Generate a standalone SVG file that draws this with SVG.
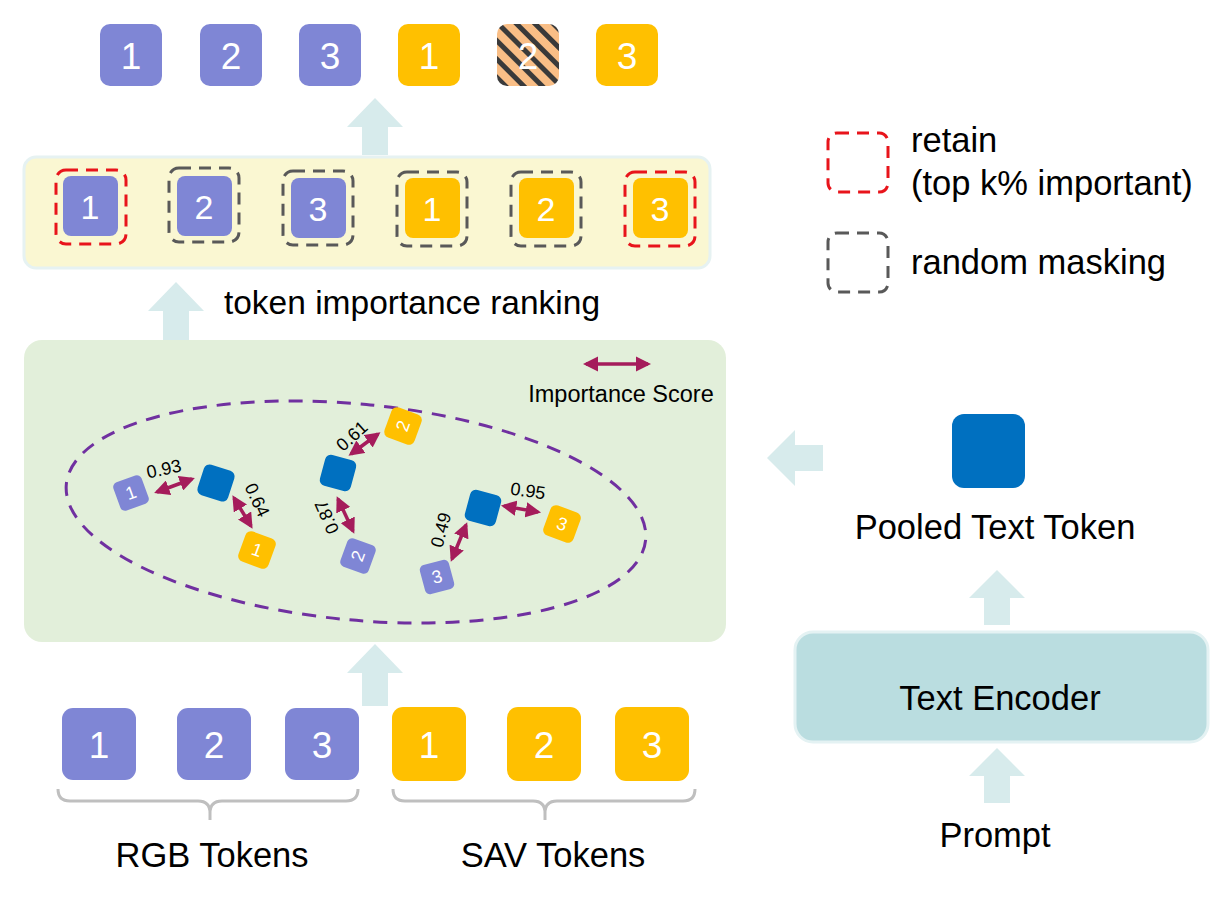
<svg xmlns="http://www.w3.org/2000/svg" width="1224" height="908" viewBox="0 0 1224 908">
<defs>
<style>
text{font-family:"Liberation Sans",Arial,sans-serif;}
.p{fill:#7F86D5;}
.y{fill:#FFC000;}
.b{fill:#0070C0;}
.num{fill:#fff;text-anchor:middle;dominant-baseline:central;}
.big{font-size:37px;}
.mid{font-size:34px;}
.sm{font-size:18px;}
.lbl{fill:#000;font-size:34.5px;}
.flow{fill:#D7EBEC;}
.red{fill:none;stroke:#E8141B;stroke-width:3;stroke-dasharray:12 8;}
.gray{fill:none;stroke:#595959;stroke-width:3;stroke-dasharray:12 8;}
.dbl{stroke:#A51C5B;stroke-width:3.5;marker-start:url(#ah);marker-end:url(#ah);}
.score{font-size:18px;fill:#000;text-anchor:middle;dominant-baseline:central;}
.brace{fill:none;stroke:#BFBFBF;stroke-width:3;}
</style>
<marker id="ah" viewBox="0 0 10 10" refX="8" refY="5" markerWidth="4.4" markerHeight="4.4" orient="auto-start-reverse" markerUnits="strokeWidth">
<path d="M0,0 L10,5 L0,10 z" fill="#A51C5B"/>
</marker>
<pattern id="hatch" width="13" height="13" patternUnits="userSpaceOnUse" patternTransform="rotate(45)">
<rect width="13" height="13" fill="#F9BE86"/>
<rect width="13" height="5" fill="#3A3A3A"/>
</pattern>
</defs>
<rect width="1224" height="908" fill="#fff"/>

<!-- panels -->
<g id="ranking-box">
<rect x="24" y="157" width="686" height="111" rx="12" fill="#FAF7D2" stroke="#E6F2F2" stroke-width="3"/>
</g>
<g id="scoring-box">
<rect x="24" y="340" width="702" height="302" rx="18" fill="#E2EFDA"/>
</g>
<g id="text-encoder">
<rect x="795" y="632" width="413" height="110" rx="18" fill="#BADDE0" stroke="#E4F2F3" stroke-width="3"/>
<text class="lbl" x="1000" y="698" text-anchor="middle" dominant-baseline="central">Text Encoder</text>
</g>

<!-- flow arrows -->
<g id="connectors">
<path class="flow" d="M375,98 L403,127 L388,127 L388,155 L362,155 L362,127 L347,127 Z"/>
<path class="flow" d="M176,282 L204,311 L189,311 L189,340 L163,340 L163,311 L148,311 Z"/>
<path class="flow" d="M375,644 L403,673 L388,673 L388,706 L362,706 L362,673 L347,673 Z"/>
<path class="flow" d="M767,458 L795,430 L795,445 L823,445 L823,471 L795,471 L795,486 Z"/>
<path class="flow" d="M997,570 L1025,598 L1010,598 L1010,625 L984,625 L984,598 L969,598 Z"/>
<path class="flow" d="M997,748 L1025,776 L1010,776 L1010,803 L984,803 L984,776 L969,776 Z"/>
<!-- importance score arrows -->
<line class="dbl" x1="157" y1="492" x2="192" y2="479"/>
<line class="dbl" x1="234" y1="498" x2="251" y2="526"/>
<line class="dbl" x1="351" y1="454" x2="378" y2="434"/>
<line class="dbl" x1="338" y1="499" x2="353" y2="531"/>
<line class="dbl" x1="504" y1="506" x2="538" y2="512"/>
<line class="dbl" x1="466" y1="525" x2="452" y2="559"/>
<line class="dbl" x1="586" y1="364" x2="648" y2="364"/>
</g>

<!-- top row output tokens -->
<g id="out-rgb-1"><rect class="p" x="100" y="24" width="62" height="62" rx="10"/><text class="num big" x="131" y="56">1</text></g>
<g id="out-rgb-2"><rect class="p" x="200" y="24" width="62" height="62" rx="10"/><text class="num big" x="231" y="56">2</text></g>
<g id="out-rgb-3"><rect class="p" x="299" y="24" width="62" height="62" rx="10"/><text class="num big" x="330" y="56">3</text></g>
<g id="out-sav-1"><rect class="y" x="398" y="24" width="62" height="62" rx="10"/><text class="num big" x="429" y="56">1</text></g>
<g id="out-sav-2"><rect x="497" y="24" width="62" height="62" rx="10" fill="url(#hatch)"/><text class="num big" x="528" y="56">2</text></g>
<g id="out-sav-3"><rect class="y" x="596" y="24" width="62" height="62" rx="10"/><text class="num big" x="627" y="56">3</text></g>

<!-- ranked tokens -->
<g id="rank-rgb-1"><rect class="p" x="63" y="176" width="55" height="60" rx="8"/><text class="num mid" x="90" y="207">1</text><rect class="red" x="56" y="170" width="70" height="74" rx="10"/></g>
<g id="rank-rgb-2"><rect class="p" x="177" y="176" width="55" height="60" rx="8"/><text class="num mid" x="204" y="207">2</text><rect class="gray" x="169" y="168" width="70" height="74" rx="10"/></g>
<g id="rank-rgb-3"><rect class="p" x="291" y="178" width="55" height="60" rx="8"/><text class="num mid" x="318" y="209">3</text><rect class="gray" x="283" y="171" width="70" height="74" rx="10"/></g>
<g id="rank-sav-1"><rect class="y" x="405" y="178" width="55" height="60" rx="8"/><text class="num mid" x="432" y="209">1</text><rect class="gray" x="397" y="172" width="70" height="74" rx="10"/></g>
<g id="rank-sav-2"><rect class="y" x="519" y="178" width="55" height="60" rx="8"/><text class="num mid" x="546" y="209">2</text><rect class="gray" x="511" y="172" width="70" height="74" rx="10"/></g>
<g id="rank-sav-3"><rect class="y" x="633" y="178" width="55" height="60" rx="8"/><text class="num mid" x="660" y="209">3</text><rect class="red" x="625" y="172" width="70" height="74" rx="10"/></g>

<g id="ranking-label"><text class="lbl" x="412" y="314" text-anchor="middle" style="font-size:33.5px">token importance ranking</text></g>

<!-- legend -->
<g id="legend-retain">
<rect class="red" x="828" y="133" width="60" height="59" rx="9"/>
<text class="lbl" x="911" y="152">retain</text>
<text class="lbl" x="911" y="195">(top k% important)</text>
</g>
<g id="legend-mask">
<rect class="gray" x="828" y="233" width="60" height="59" rx="9"/>
<text class="lbl" x="911" y="274">random masking</text>
</g>

<!-- scoring panel content -->
<g id="score-legend"><text x="621" y="402" font-size="23.5" text-anchor="middle" fill="#000">Importance Score</text></g>
<g id="cluster-ellipse"><ellipse cx="356" cy="512" rx="291" ry="108" transform="rotate(5.5 356 512)" fill="none" stroke="#7030A0" stroke-width="3" stroke-dasharray="14 10"/></g>

<g id="s-rgb-1" transform="translate(131,493) rotate(-20)"><rect class="p" x="-15" y="-15" width="30" height="30" rx="5"/><text class="num sm" x="0" y="0">1</text></g>
<g id="s-txt-1" transform="translate(216,483) rotate(18)"><rect class="b" x="-16" y="-16" width="32" height="32" rx="6"/></g>
<g id="s-sav-1" transform="translate(257,550) rotate(20)"><rect class="y" x="-16" y="-16" width="32" height="32" rx="6"/><text class="num sm" x="0" y="0">1</text></g>
<text class="score" transform="translate(164,469) rotate(-12)">0.93</text>
<text class="score" transform="translate(257,500) rotate(65)">0.64</text>

<g id="s-sav-2" transform="translate(403,426) rotate(20)"><rect class="y" x="-16" y="-16" width="32" height="32" rx="6"/><text class="num sm" x="0" y="0" transform="rotate(-90)">2</text></g>
<g id="s-txt-2" transform="translate(338,473) rotate(15)"><rect class="b" x="-16" y="-16" width="32" height="32" rx="6"/></g>
<g id="s-rgb-2" transform="translate(358,556) rotate(20)"><rect class="p" x="-15" y="-15" width="30" height="30" rx="5"/><text class="num sm" x="0" y="0" transform="rotate(-90)">2</text></g>
<text class="score" transform="translate(352,436) rotate(-42)">0.61</text>
<text class="score" transform="translate(327,517) rotate(-114)">0.87</text>

<g id="s-txt-3" transform="translate(483,508) rotate(15)"><rect class="b" x="-16" y="-16" width="32" height="32" rx="6"/></g>
<g id="s-sav-3" transform="translate(562,524) rotate(20)"><rect class="y" x="-16" y="-16" width="32" height="32" rx="6"/><text class="num sm" x="0" y="0">3</text></g>
<g id="s-rgb-3" transform="translate(437,577) rotate(-15)"><rect class="p" x="-15" y="-15" width="30" height="30" rx="5"/><text class="num sm" x="0" y="0">3</text></g>
<text class="score" transform="translate(528,491) rotate(8)">0.95</text>
<text class="score" transform="translate(441,530) rotate(-75)">0.49</text>

<!-- input tokens -->
<g id="in-rgb-1"><rect class="p" x="62" y="708" width="74" height="72" rx="11"/><text class="num big" x="99" y="745">1</text></g>
<g id="in-rgb-2"><rect class="p" x="177" y="708" width="74" height="72" rx="11"/><text class="num big" x="214" y="745">2</text></g>
<g id="in-rgb-3"><rect class="p" x="285" y="708" width="74" height="72" rx="11"/><text class="num big" x="322" y="745">3</text></g>
<g id="in-sav-1"><rect class="y" x="392" y="707" width="74" height="74" rx="11"/><text class="num big" x="429" y="745">1</text></g>
<g id="in-sav-2"><rect class="y" x="507" y="707" width="74" height="74" rx="11"/><text class="num big" x="544" y="745">2</text></g>
<g id="in-sav-3"><rect class="y" x="615" y="707" width="74" height="74" rx="11"/><text class="num big" x="652" y="745">3</text></g>

<g id="rgb-brace">
<path class="brace" d="M58,789 Q58,801 70,801 L198,801 Q210,801 210,813 L210,820 M210,813 Q210,801 222,801 L346,801 Q358,801 358,789"/>
<text class="lbl" x="212" y="867" text-anchor="middle">RGB Tokens</text>
</g>
<g id="sav-brace">
<path class="brace" d="M393,789 Q393,801 405,801 L533,801 Q545,801 545,813 L545,820 M545,813 Q545,801 557,801 L683,801 Q695,801 695,789"/>
<text class="lbl" x="553" y="867" text-anchor="middle">SAV Tokens</text>
</g>

<!-- right side -->
<g id="pooled-token">
<rect class="b" x="952" y="414" width="73" height="74" rx="12"/>
<text class="lbl" x="995" y="539" text-anchor="middle">Pooled Text Token</text>
</g>
<g id="prompt"><text class="lbl" x="995" y="847" text-anchor="middle">Prompt</text></g>
</svg>
